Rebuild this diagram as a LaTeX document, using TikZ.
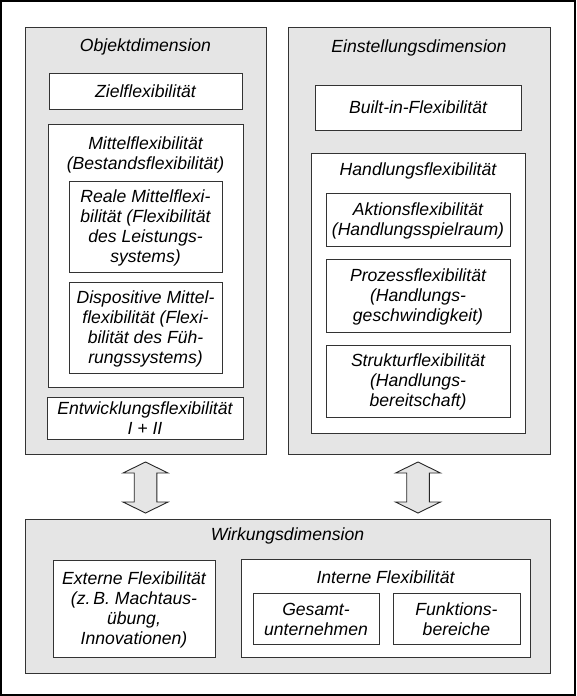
\documentclass[tikz,border=0pt]{standalone}
\usepackage{fontspec}
\setmainfont{Liberation Sans}
\begin{document}
\begin{tikzpicture}[x=1pt,y=-1pt,
  every node/.style={font=\itshape\fontsize{17.6}{20}\selectfont},
  frame/.style={draw=black, line width=1.6pt, fill=white},
  gbox/.style={draw=black!80, line width=0.9pt, fill=gray!20, rectangle},
  wbox/.style={draw=black!80, line width=0.9pt, fill=white, rectangle},
  txt/.style={inner sep=0pt, align=center},
  arrowbox/.style={draw=black!85, line width=0.9pt, fill=gray!20, line join=miter}
]
\useasboundingbox (0,0) rectangle (576,696);
\draw[frame] (1,1) rectangle (575,695);

% Containers
\draw[gbox] (25,27) rectangle (266,454);
\coordinate (objS) at (145.5,454);
\draw[gbox] (288,27) rectangle (550,454);
\coordinate (einS) at (418,454);
\draw[gbox] (25,519) rectangle (550,673);

\node[txt] (objT) at (145.5,47) {Objektdimension};
\node[txt] (einT) at (419,48) {Einstellungsdimension};
\node[txt] (wirT) at (287.5,536) {Wirkungsdimension};

% Objektdimension
\draw[wbox] (49,73) rectangle (242,109);
\node[txt] (ziel) at (145.5,91) {Zielflexibilität};
\draw[wbox] (48,124) rectangle (243,387);
\node[txt] (mittel) at (145.5,155) {Mittelflexibilität\\(Bestandsflexibilität)};
\draw[wbox] (69,181) rectangle (222,272);
\node[txt] (reale) at (145.5,227.5) {Reale Mittelflexi-\\bilität (Flexibilität\\des Leistungs-\\systems)};
\draw[wbox] (69,282) rectangle (222,373);
\node[txt] (dispo) at (145.5,328.5) {Dispositive Mittel-\\flexibilität (Flexi-\\bilität des Füh-\\rungssystems)};
\draw[wbox] (47,397) rectangle (243,439);
\node[txt] (entw) at (145,418.5) {Entwicklungsflexibilität\\I + II};

% Einstellungsdimension
\draw[wbox] (315,85) rectangle (521,130);
\node[txt] (built) at (418,107.5) {Built-in-Flexibilität};
\draw[wbox] (311,153) rectangle (525,433);
\node[txt] (hand) at (418,171) {Handlungsflexibilität};
\draw[wbox] (326,193) rectangle (510,246);
\node[txt] (akt) at (418,220.5) {Aktionsflexibilität\\(Handlungsspielraum)};
\draw[wbox] (326,259) rectangle (510,332);
\node[txt] (proz) at (418,296.5) {Prozessflexibilität\\(Handlungs-\\geschwindigkeit)};
\draw[wbox] (326,345) rectangle (510,417);
\node[txt] (strukt) at (418,382) {Strukturflexibilität\\(Handlungs-\\bereitschaft)};

% Wirkungsdimension
\draw[wbox] (53,560) rectangle (215,657);
\node[txt] (ext) at (134,609.5) {Externe Flexibilität\\(z.\,B. Machtaus-\\übung,\\Innovationen)};
\draw[wbox] (241,559) rectangle (530,657);
\node[txt] (int) at (385.5,577) {Interne Flexibilität};
\draw[wbox] (253,593) rectangle (379,644);
\node[txt] (ges) at (316,619.5) {Gesamt-\\unternehmen};
\draw[wbox] (393,593) rectangle (520,644);
\node[txt] (funk) at (456.5,619.5) {Funktions-\\bereiche};

% Double arrows
\draw[arrowbox] ([yshift=-8]objS) -- ++(22.5,11) -- ++(-11.2,0) -- ++(0,29) -- ++(11.2,0)
  -- ++(-22.5,11) -- ++(-22.5,-11) -- ++(11.2,0) -- ++(0,-29) -- ++(-11.2,0) -- cycle;
\draw[arrowbox] ([yshift=-8]einS) -- ++(22.5,11) -- ++(-11.2,0) -- ++(0,29) -- ++(11.2,0)
  -- ++(-22.5,11) -- ++(-22.5,-11) -- ++(11.2,0) -- ++(0,-29) -- ++(-11.2,0) -- cycle;
\end{tikzpicture}
\end{document}
